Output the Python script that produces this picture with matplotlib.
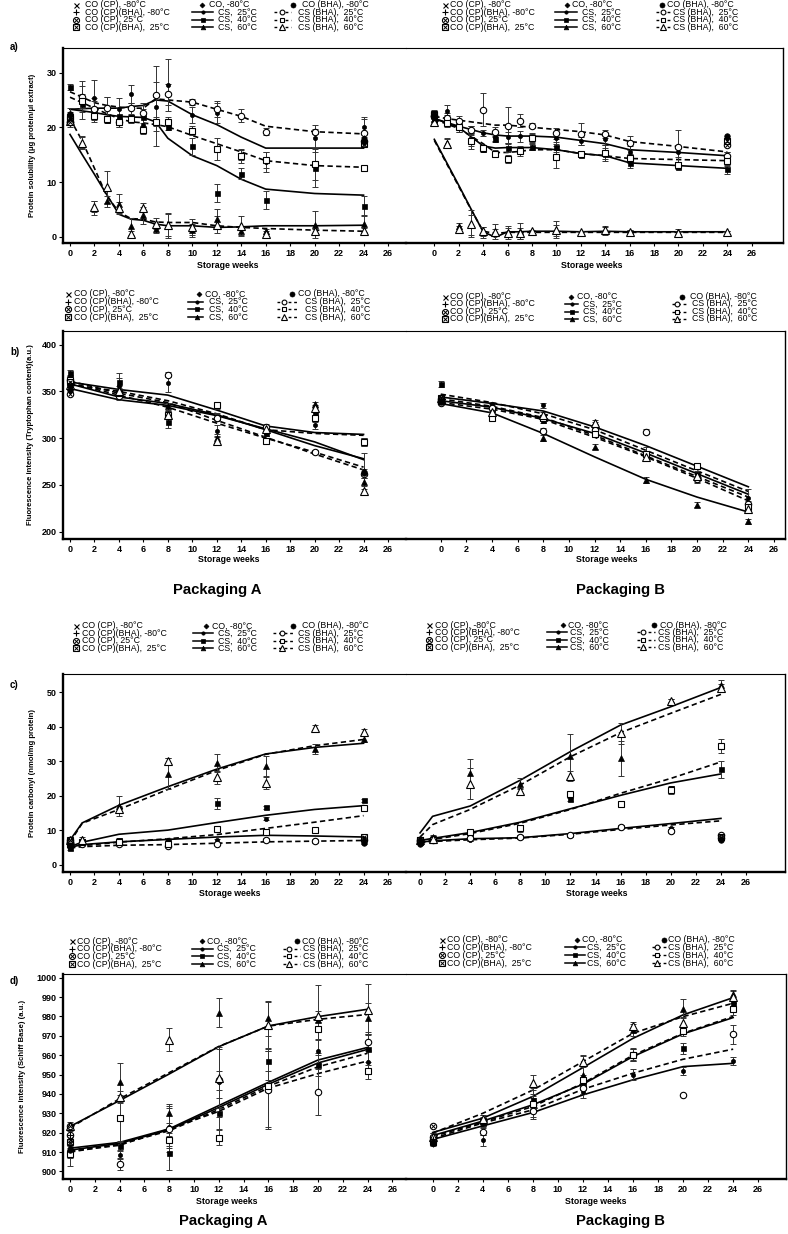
import numpy as np
import matplotlib
matplotlib.use('Agg')
import matplotlib.pyplot as plt
from matplotlib.lines import Line2D

plt.rcParams['font.family'] = ['Liberation Sans', 'DejaVu Sans']
nan = np.nan

# ------------------------------------------------------------------ data
WK_A = [0, 1, 2, 3, 4, 5, 6, 7, 8, 10, 12, 14, 16, 20, 24]
WK_B = [0, 4, 8, 12, 16, 20, 24]
WK_C = [0, 1, 4, 8, 12, 16, 20, 24]
WK_D = [0, 4, 8, 12, 16, 20, 24]
CTRL_WK = [0, 24]
XTICKS = list(range(0, 27, 2))

# a) Protein solubility - Packaging A
aL_cs25 = [22.3, 25.0, 25.3, 23.8, 23.3, 26.1, 20.5, 23.8, 27.7, 22.3, 22.6, 15.0, 13.7, 18.0, 20.0]
aL_cs25_err = [1.3, 3.5, 3.3, 1.8, 2.0, 1.6, 1.5, 4.5, 4.8, 1.5, 1.8, 1.0, 1.8, 2.5, 1.8]
aL_cs40 = [27.4, 24.3, 23.3, 21.3, 22.0, 21.8, 21.8, 21.0, 20.0, 16.5, 8.0, 11.5, 6.7, 12.5, 5.7]
aL_cs40_err = [0.5, 1.5, 2.0, 0.5, 1.5, 0.5, 1.5, 4.5, 0.5, 1.5, 1.6, 1.0, 1.6, 3.5, 1.8]
aL_cs60 = [21.8, 17.2, 5.2, 6.5, 6.0, 1.9, 3.9, 1.5, 2.0, 1.2, 3.2, 1.0, 1.0, 2.2, 2.3]
aL_cs60_err = [1.0, 1.0, 1.3, 1.0, 1.8, 1.6, 1.5, 0.8, 2.3, 1.2, 1.8, 0.8, 0.5, 2.5, 1.5]
aL_bha25 = [21.0, 25.5, 23.3, 23.5, 21.0, 23.5, 22.6, 25.9, 26.0, 24.6, 23.3, 22.1, 19.2, 19.2, 19.0]
aL_bha25_err = [1.0, 2.0, 1.5, 2.0, 1.0, 1.0, 1.8, 5.4, 2.0, 0.5, 1.5, 1.2, 0.6, 0.5, 2.5]
aL_bha40 = [21.5, 24.8, 22.0, 21.5, 21.0, 21.5, 19.5, 21.0, 21.0, 19.4, 16.0, 14.7, 14.0, 13.3, 12.5]
aL_bha40_err = [0.8, 1.2, 1.0, 0.5, 1.0, 0.8, 0.8, 0.8, 0.8, 0.8, 2.0, 1.2, 1.5, 3.0, 0.5]
aL_bha60 = [21.2, 17.2, 5.5, 9.1, 5.3, 0.5, 5.3, 2.4, 2.2, 1.8, 2.2, 2.0, 0.5, 1.0, 1.1]
aL_bha60_err = [0.8, 1.2, 1.0, 3.0, 1.0, 0.6, 0.8, 1.0, 2.0, 1.5, 1.5, 1.7, 0.5, 0.5, 0.5]
aL_cs25_fit = [23.3, 23.4, 23.5, 23.5, 23.5, 23.8, 24.0, 25.0, 24.8, 22.3, 20.5, 18.2, 16.2, 16.2, 16.2]
aL_cs40_fit = [23.3, 23.0, 22.7, 22.3, 22.0, 21.9, 21.8, 21.0, 18.0, 14.8, 13.0, 10.5, 8.7, 7.9, 7.6]
aL_cs60_fit = [18.7, 15.0, 11.4, 7.7, 4.1, 3.2, 3.0, 2.3, 2.0, 2.0, 1.7, 1.8, 2.0, 2.0, 2.1]
aL_bha25_fit = [26.5, 25.5, 24.5, 24.0, 23.7, 23.5, 23.5, 25.2, 25.0, 24.6, 23.3, 22.0, 20.2, 19.2, 18.8]
aL_bha40_fit = [25.5, 24.5, 23.5, 22.5, 21.6, 21.0, 20.8, 20.5, 20.1, 18.5, 17.0, 15.5, 13.9, 13.0, 12.7]
aL_bha60_fit = [21.6, 17.5, 12.5, 7.5, 4.5, 3.3, 3.2, 2.7, 2.6, 2.6, 2.0, 1.7, 1.5, 1.2, 1.0]
aL_cp80 = [21.5, nan]
aL_cpbha80 = [22.0, nan]
aL_cp25 = [20.9, 17.5]
aL_cpbha25 = [21.8, 17.0]
aL_co80 = [22.0, 18.0]
aL_cobha80 = [22.5, 17.5]

# a) Protein solubility - Packaging B
aR_cs25 = [21.5, 22.9, 20.3, 19.4, 19.0, 18.3, 18.2, 18.4, 18.2, 18.0, 17.5, 17.8, 15.5, 15.5, 14.6]
aR_cs25_err = [0.8, 1.2, 0.8, 0.8, 0.5, 0.8, 1.0, 1.0, 0.8, 1.0, 0.8, 1.0, 1.0, 1.0, 0.8]
aR_cs40 = [21.3, 21.4, 20.0, 17.8, 16.0, 17.8, 16.3, 16.0, 16.4, 16.4, 15.0, 15.2, 13.5, 12.8, 12.3]
aR_cs40_err = [0.8, 0.8, 0.8, 1.2, 0.5, 0.5, 0.8, 0.5, 0.5, 1.0, 0.5, 1.0, 1.0, 0.5, 0.8]
aR_cs60 = [21.5, 17.2, 2.0, 2.2, 0.8, 0.9, 0.9, 1.0, 1.0, 1.2, 0.6, 1.1, 0.9, 0.8, 0.8]
aR_cs60_err = [0.5, 0.8, 0.5, 1.8, 1.0, 1.4, 1.0, 1.5, 0.3, 1.0, 0.3, 0.8, 0.3, 0.6, 0.3]
aR_bha25 = [22.0, 21.7, 21.2, 19.5, 23.2, 19.2, 20.3, 21.2, 20.3, 18.9, 18.8, 18.8, 17.2, 16.4, 14.7]
aR_bha25_err = [0.8, 1.0, 0.8, 0.8, 3.0, 0.8, 3.4, 1.2, 0.5, 1.0, 2.0, 0.8, 1.3, 3.2, 0.8]
aR_bha40 = [22.3, 20.8, 20.0, 17.5, 16.3, 15.2, 14.2, 15.6, 18.0, 14.5, 15.1, 15.3, 14.3, 13.2, 13.8]
aR_bha40_err = [0.8, 0.8, 0.8, 1.5, 0.5, 0.6, 0.8, 0.8, 0.8, 2.0, 0.5, 1.5, 0.8, 0.5, 0.8]
aR_bha60 = [21.0, 17.0, 1.4, 2.4, 1.0, 0.8, 0.6, 0.6, 1.0, 1.3, 0.8, 1.2, 0.9, 0.7, 0.8]
aR_bha60_err = [0.5, 0.8, 0.5, 2.4, 0.8, 0.6, 1.0, 1.0, 0.3, 1.5, 0.3, 0.6, 0.3, 0.3, 0.3]
aR_cs25_fit = [21.6, 20.9, 20.2, 19.6, 19.0, 18.6, 18.4, 18.4, 18.4, 18.2, 17.6, 17.0, 15.9, 15.4, 14.8]
aR_cs40_fit = [21.6, 20.8, 20.0, 18.3, 16.6, 16.2, 16.3, 16.3, 16.3, 15.9, 15.2, 14.8, 13.5, 13.0, 12.5]
aR_cs60_fit = [17.8, 13.6, 9.4, 5.1, 0.9, -0.1, 0.9, 0.9, 1.0, 1.0, 0.9, 1.0, 0.9, 0.9, 0.9]
aR_bha25_fit = [22.0, 21.6, 21.3, 21.0, 20.7, 20.4, 20.4, 20.2, 20.0, 19.6, 19.2, 18.6, 17.4, 16.5, 15.5]
aR_bha40_fit = [21.5, 20.6, 19.8, 18.4, 17.0, 15.4, 15.4, 15.6, 15.9, 15.9, 15.2, 14.8, 14.3, 14.1, 13.9]
aR_bha60_fit = [17.6, 13.4, 9.2, 5.0, 1.0, 0.6, 0.8, 0.8, 0.8, 0.8, 0.8, 0.8, 0.8, 0.8, 0.8]
aR_cp80 = [21.5, nan]
aR_cpbha80 = [21.8, nan]
aR_cp25 = [22.0, 16.8]
aR_cpbha25 = [22.5, 17.5]
aR_co80 = [21.8, 18.0]
aR_cobha80 = [22.2, 18.4]

# b) Tryptophan fluorescence - Packaging A
bL_cs25 = [358, 356, 359, 308, 306, 314, 262]
bL_cs25_err = [6, 8, 10, 6, 4, 4, 5]
bL_cs40 = [370, 360, 317, 323, 305, 328, 296]
bL_cs40_err = [3, 10, 6, 4, 3, 4, 4]
bL_cs60 = [355, 352, 334, 300, 310, 336, 253]
bL_cs60_err = [4, 4, 4, 4, 3, 3, 4]
bL_bha25 = [362, 345, 368, 322, 312, 285, 262]
bL_bha25_err = [4, 4, 3, 4, 3, 2, 22]
bL_bha40 = [362, 348, 325, 335, 297, 321, 296]
bL_bha40_err = [4, 4, 4, 4, 3, 4, 4]
bL_bha60 = [357, 350, 325, 297, 310, 332, 243]
bL_bha60_err = [4, 4, 4, 4, 3, 3, 3]
bL_cs25_fit = [360, 352, 346, 330, 313, 306, 304]
bL_cs40_fit = [358, 344, 337, 325, 309, 292, 278]
bL_cs60_fit = [353, 341, 335, 324, 310, 296, 277]
bL_bha25_fit = [359, 346, 333, 316, 300, 285, 269]
bL_bha40_fit = [361, 348, 338, 319, 301, 283, 266]
bL_bha60_fit = [357, 350, 340, 326, 309, 305, 303]
bL_cp80 = [352, nan]
bL_cpbha80 = [355, nan]
bL_cp25 = [347, nan]
bL_cpbha25 = [360, nan]
bL_co80 = [350, 265]
bL_cobha80 = [356, 263]

# b) Tryptophan fluorescence - Packaging B
bR_cs25 = [341, 336, 335, 314, 284, 255, 236]
bR_cs25_err = [3, 3, 3, 3, 6, 3, 10]
bR_cs40 = [358, 331, 319, 312, 281, 262, 228]
bR_cs40_err = [3, 3, 3, 3, 3, 3, 3]
bR_cs60 = [340, 334, 300, 291, 255, 229, 211]
bR_cs60_err = [3, 3, 3, 3, 3, 3, 3]
bR_bha25 = [342, 332, 308, 309, 307, 256, 230]
bR_bha25_err = [3, 3, 3, 3, 3, 3, 3]
bR_bha40 = [340, 321, 321, 304, 283, 270, 226]
bR_bha40_err = [3, 3, 3, 3, 3, 3, 3]
bR_bha60 = [343, 328, 325, 316, 280, 259, 224]
bR_bha60_err = [3, 3, 3, 3, 3, 3, 3]
bR_cs25_fit = [344, 337, 329, 312, 292, 270, 248]
bR_cs40_fit = [340, 333, 321, 305, 284, 262, 240]
bR_cs60_fit = [337, 327, 305, 280, 256, 237, 221]
bR_bha25_fit = [347, 338, 326, 309, 287, 265, 243]
bR_bha40_fit = [342, 334, 322, 303, 281, 259, 237]
bR_bha60_fit = [338, 331, 320, 301, 280, 257, 233]
bR_cp80 = [340, nan]
bR_cpbha80 = [342, nan]
bR_cp25 = [338, nan]
bR_cpbha25 = [343, nan]
bR_co80 = [341, nan]
bR_cobha80 = [339, nan]

# c) Protein carbonyl - Packaging A
cL_cs25 = [5.5, 6.5, 6.8, 7.2, 7.0, 13.3, 7.0, 6.5]
cL_cs25_err = [0.5, 0.5, 0.5, 0.5, 0.5, 0.5, 0.5, 0.5]
cL_cs40 = [4.8, 6.8, 7.2, 6.5, 17.8, 16.6, 10.0, 18.6]
cL_cs40_err = [0.5, 0.5, 0.5, 0.5, 1.6, 0.5, 0.5, 0.5]
cL_cs60 = [6.0, 7.5, 17.0, 26.3, 29.5, 28.5, 33.5, 36.5]
cL_cs60_err = [0.5, 0.5, 3.0, 4.5, 2.5, 3.0, 1.5, 0.8]
cL_bha25 = [6.5, 6.0, 6.0, 5.5, 6.0, 7.2, 6.7, 7.2]
cL_bha25_err = [0.4, 0.4, 0.4, 0.4, 0.4, 0.4, 0.4, 0.4]
cL_bha40 = [6.0, 6.5, 6.5, 6.0, 10.3, 9.5, 10.0, 16.3]
cL_bha40_err = [0.5, 0.5, 0.5, 0.5, 0.5, 0.5, 0.5, 0.5]
cL_bha60 = [7.0, 7.0, 16.0, 30.0, 25.3, 23.8, 39.5, 38.6]
cL_bha60_err = [0.5, 0.5, 1.0, 1.0, 2.0, 2.0, 1.0, 0.6]
cL_cs25_fit = [5.0, 5.8, 6.6, 7.3, 8.0, 8.5, 8.3, 8.0]
cL_cs40_fit = [5.2, 6.5, 8.8, 10.0, 12.2, 14.3, 16.0, 17.1]
cL_cs60_fit = [7.1, 12.1, 17.2, 22.6, 27.7, 32.1, 34.0, 35.2]
cL_bha25_fit = [4.8, 5.2, 5.6, 5.8, 6.2, 6.6, 6.8, 7.0]
cL_bha40_fit = [5.0, 5.5, 6.5, 7.5, 8.7, 10.5, 12.3, 14.2]
cL_bha60_fit = [6.5, 12.0, 16.0, 21.8, 27.3, 32.0, 34.5, 36.3]
cL_cp80 = [6.0, nan]
cL_cpbha80 = [5.5, nan]
cL_cp25 = [7.0, nan]
cL_cpbha25 = [7.2, 8.0]
cL_co80 = [5.8, 7.0]
cL_cobha80 = [5.0, 6.3]

# c) Protein carbonyl - Packaging B
cR_cs25 = [6.8, 7.0, 7.2, 8.0, 8.4, 11.0, 10.5, 7.5]
cR_cs25_err = [0.5, 0.5, 0.5, 0.5, 0.5, 0.5, 0.5, 0.5]
cR_cs40 = [6.5, 7.8, 8.5, 11.0, 18.9, 17.8, 22.3, 27.7]
cR_cs40_err = [0.5, 0.5, 0.5, 0.5, 0.5, 0.5, 0.5, 2.5]
cR_cs60 = [7.5, 8.0, 26.5, 23.5, 31.5, 30.8, 47.5, 52.0]
cR_cs60_err = [0.5, 0.5, 4.0, 1.5, 6.5, 5.0, 0.5, 1.5]
cR_bha25 = [7.0, 7.2, 7.8, 8.0, 8.5, 11.0, 9.8, 8.5]
cR_bha25_err = [0.5, 0.5, 1.0, 0.5, 0.5, 0.5, 0.5, 0.5]
cR_bha40 = [7.0, 7.0, 9.5, 10.5, 20.5, 17.5, 21.5, 34.5]
cR_bha40_err = [0.5, 0.5, 0.5, 1.0, 0.5, 0.5, 1.0, 2.0]
cR_bha60 = [7.0, 7.5, 23.5, 21.3, 25.7, 38.1, 47.6, 51.3]
cR_bha60_err = [0.5, 0.5, 4.5, 1.0, 1.5, 3.0, 0.5, 1.0]
cR_cs25_fit = [6.5, 6.9, 7.5, 7.8, 9.0, 10.5, 11.9, 13.4]
cR_cs40_fit = [7.0, 7.6, 9.3, 12.3, 16.2, 20.1, 23.7, 26.3]
cR_cs60_fit = [9.2, 14.0, 17.0, 24.5, 32.8, 40.5, 45.8, 51.4]
cR_bha25_fit = [6.3, 6.7, 7.2, 7.7, 8.8, 10.2, 11.5, 12.7]
cR_bha40_fit = [6.5, 7.3, 9.0, 12.0, 16.0, 20.7, 25.0, 29.8]
cR_bha60_fit = [8.0, 11.6, 16.0, 23.1, 31.3, 38.3, 43.9, 49.4]
cR_cp80 = [6.5, nan]
cR_cpbha80 = [7.0, nan]
cR_cp25 = [6.8, 7.6]
cR_cpbha25 = [7.2, 8.0]
cR_co80 = [6.5, 7.5]
cR_cobha80 = [6.0, 7.0]

# d) Schiff base fluorescence - Packaging A
dL_cs25 = [911, 908.5, 923, 946, 943, 962, 956.5]
dL_cs25_err = [3, 2, 10, 18, 20, 6, 6]
dL_cs40 = [910, 913, 909.5, 930, 957, 955, 963]
dL_cs40_err = [3, 2, 9, 8, 5, 6, 8]
dL_cs60 = [912, 946, 930, 982, 979, 978, 979]
dL_cs60_err = [3, 10, 5, 7.5, 9, 18, 8]
dL_bha25 = [919, 904, 922, 947, 942, 941, 967]
dL_bha25_err = [2, 3, 12, 5, 20, 12, 5]
dL_bha40 = [909, 927.5, 916, 917.5, 944, 973.5, 952]
dL_bha40_err = [6, 12, 4, 4, 3, 5, 4.5]
dL_bha60 = [923.5, 938.5, 968, 948, 975.5, 980, 983.5]
dL_bha60_err = [2, 3, 6, 15, 12, 3, 13]
dL_cs25_fit = [912, 915, 922, 934, 946, 957.5, 964]
dL_cs40_fit = [911, 914.5, 921.5, 933, 945, 956, 963]
dL_cs60_fit = [923.2, 936.6, 950.3, 964.4, 975.1, 979.9, 983.7]
dL_bha25_fit = [910.5, 913.5, 922, 931, 943, 950.5, 957]
dL_bha40_fit = [910, 914, 921, 932, 944, 954, 961]
dL_bha60_fit = [922.5, 937.5, 951, 964.5, 975, 978.5, 981]
dL_cp80 = [917, nan]
dL_cpbha80 = [919, nan]
dL_cp25 = [923.5, nan]
dL_cpbha25 = [915, nan]
dL_co80 = [912, nan]
dL_cobha80 = [911, nan]

# d) Schiff base fluorescence - Packaging B
dR_cs25 = [916, 916, 935, 941, 950, 952, 957]
dR_cs25_err = [2, 3, 8, 3, 3, 2, 2]
dR_cs40 = [915, 925, 937, 945, 960.5, 963.5, 987]
dR_cs40_err = [2, 2, 3, 3, 3, 3, 2]
dR_cs60 = [917, 927, 936, 950, 973, 984, 991.5]
dR_cs60_err = [2, 2, 3, 10, 3, 5, 2]
dR_bha25 = [918, 920.6, 931, 943, 960, 939.2, 970.8]
dR_bha25_err = [2, 2, 3, 3, 3, 0, 5]
dR_bha40 = [916, 926, 935, 947, 960, 972.7, 983.8]
dR_bha40_err = [2, 2, 3, 3, 3, 3, 3]
dR_bha60 = [918, 927, 945.9, 956.7, 975.1, 976.5, 990]
dR_bha60_err = [2, 2, 4, 3, 2, 3, 3]
dR_cs25_fit = [916.5, 923.5, 930.4, 939.5, 947.3, 954.1, 955.8]
dR_cs40_fit = [918.5, 926, 934.4, 945, 959.3, 971, 979.4]
dR_cs60_fit = [920.1, 927.5, 938.7, 953.6, 968.7, 980.8, 989.7]
dR_bha25_fit = [917, 925, 931.8, 942.4, 950.7, 957.9, 963.1]
dR_bha40_fit = [918, 925.5, 933.5, 945.5, 960, 971.3, 980]
dR_bha60_fit = [919.8, 930, 942, 956.7, 971.3, 979.9, 986.8]
dR_cp80 = [916, nan]
dR_cpbha80 = [917, nan]
dR_cp25 = [923.5, nan]
dR_cpbha25 = [915, nan]
dR_co80 = [914, nan]
dR_cobha80 = [915, nan]

YT_A = [0, 10, 20, 30]
YT_B = [200, 250, 300, 350, 400]
YT_C = [0, 10, 20, 30, 40, 50]
YT_D = list(range(900, 1001, 10))
YLABELS = ['Protein solubility (\u03bcg protein/\u03bcl extract)',
           'Fluorescence intensity (Tryptophan content)(a.u.)',
           'Protein carbonyl (nmol/mg protein)',
           'Fluorescence intensity (Schiff Base) (a.u.)']
LEG_C1 = ['CO (CP), -80\u00b0C', 'CO (CP)(BHA), -80\u00b0C', 'CO (CP), 25\u00b0C', 'CO (CP)(BHA),  25\u00b0C']
LEG_C2 = ['CO, -80\u00b0C', 'CS,  25\u00b0C', 'CS,  40\u00b0C', 'CS,  60\u00b0C']
LEG_C3 = ['CO (BHA), -80\u00b0C', 'CS (BHA),  25\u00b0C', 'CS (BHA),  40\u00b0C', 'CS (BHA),  60\u00b0C']

# ------------------------------------------------------------------ styles
W, H = 788, 1234
fig = plt.figure(figsize=(W / 100, H / 100), dpi=100)

MK = {
    'cp80': [dict(marker='x', ms=3.6, mec='k', mew=0.8)],
    'cpbha80': [dict(marker='+', ms=4.6, mec='k', mew=0.8)],
    'cp25': [dict(marker='o', ms=4.6, mfc='none', mec='k', mew=0.8),
             dict(marker='x', ms=2.6, mec='k', mew=0.7)],
    'cpbha25': [dict(marker='s', ms=4.4, mfc='none', mec='k', mew=0.8),
                dict(marker='x', ms=2.8, mec='k', mew=0.7)],
    'co80': [dict(marker='D', ms=2.8, mfc='k', mec='k', mew=0.5)],
    'cobha80': [dict(marker='o', ms=4.0, mfc='k', mec='k', mew=0.5)],
    'cs25': [dict(marker='o', ms=3.0, mfc='k', mec='k', mew=0.5)],
    'cs40': [dict(marker='s', ms=3.6, mfc='k', mec='k', mew=0.5)],
    'cs60': [dict(marker='^', ms=4.2, mfc='k', mec='k', mew=0.5)],
    'bha25': [dict(marker='o', ms=4.6, mfc='white', mec='k', mew=0.8)],
    'bha40': [dict(marker='s', ms=4.6, mfc='white', mec='k', mew=0.8)],
    'bha60': [dict(marker='^', ms=5.2, mfc='white', mec='k', mew=0.8)],
}
SOLID = dict(color='k', lw=1.2, ls='-')
DASH = dict(color='k', lw=1.2, ls=(0, (3.2, 2.0)))
LEG_SOLID = dict(color='k', lw=1.1, ls='-')
LEG_DASH = dict(color='k', lw=1.0, ls=(0, (2.0, 2.0)))
LEG_MS = {'cp80': 1.0, 'cpbha80': 1.0, 'cp25': 0.95, 'cpbha25': 0.95, 'co80': 0.9, 'cobha80': 0.9,
          'cs25': 0.8, 'cs40': 0.8, 'cs60': 0.8, 'bha25': 0.75, 'bha40': 0.75, 'bha60': 0.75}

def fx(x):
    return x / W

def fy(y):
    return 1 - y / H

def fig_mark(x, y, key):
    for kw in MK[key]:
        kw2 = dict(kw)
        kw2['ms'] = kw['ms'] * LEG_MS[key]
        fig.add_artist(Line2D([fx(x)], [fy(y)], transform=fig.transFigure, ls='none', **kw2))

def fig_line(x0, x1, y, style):
    fig.add_artist(Line2D([fx(x0), fx(x1)], [fy(y), fy(y)], transform=fig.transFigure, **style))

def fig_text(x, y, s, **kw):
    fig.text(fx(x), fy(y), s, **kw)

def draw_series(ax, weeks, vals, err, fit, key, style):
    ax.plot(weeks, fit, zorder=2, **style)
    ax.errorbar(weeks, vals, yerr=err, fmt='none', ecolor='#333333', elinewidth=0.7,
                capsize=2.0, capthick=0.7, zorder=3)
    for kw in MK[key]:
        ax.plot(weeks, vals, ls='none', zorder=4, **kw)

def draw_ctrl(ax, vals, key):
    for kw in MK[key]:
        ax.plot(CTRL_WK, vals, ls='none', zorder=4, **kw)

def draw_panel(ax, weeks, p):
    g = globals()
    for key, st in [('cs25', SOLID), ('cs40', SOLID), ('cs60', SOLID),
                    ('bha25', DASH), ('bha40', DASH), ('bha60', DASH)]:
        draw_series(ax, weeks, g[p + '_' + key], g[p + '_' + key + '_err'],
                    g[p + '_' + key + '_fit'], key, st)
    for key in ['cp80', 'cpbha80', 'cp25', 'cpbha25', 'co80', 'cobha80']:
        draw_ctrl(ax, g[p + '_' + key], key)

def legend_block(L):
    for i in range(4):
        y = L['y0'] + i * L['dy']
        fig_mark(L['c1m'], y, ['cp80', 'cpbha80', 'cp25', 'cpbha25'][i])
        fig_text(L['c1t'], y, LEG_C1[i], fontsize=6.3, va='center', ha='left')
        if i == 0:
            fig_mark(L['c2d'], y, 'co80')
            fig_text(L['c2tc'], y, LEG_C2[0], fontsize=6.3, va='center', ha='left')
            fig_mark(L['c3f'], y, 'cobha80')
            fig_text(L['c3tc'], y, LEG_C3[0], fontsize=6.3, va='center', ha='left')
        else:
            fig_line(L['c2l'][0], L['c2l'][1], y, LEG_SOLID)
            fig_mark(L['c2m'], y, ['cs25', 'cs40', 'cs60'][i - 1])
            fig_text(L['c2t'], y, LEG_C2[i], fontsize=6.3, va='center', ha='left')
            fig_line(L['c3l'][0], L['c3l'][1], y, LEG_DASH)
            fig_mark(L['c3m'], y, ['bha25', 'bha40', 'bha60'][i - 1])
            fig_text(L['c3t'], y, LEG_C3[i], fontsize=6.3, va='center', ha='left')

LEGENDS = [
    dict(y0=4.5, dy=7.6, c1m=76, c1t=85, c2d=202, c2tc=209, c2l=(192, 213), c2m=203, c2t=218,
         c3f=293, c3tc=302, c3l=(274, 291), c3m=282, c3t=298),
    dict(y0=4.5, dy=7.6, c1m=445, c1t=450, c2d=567, c2tc=572, c2l=(555, 577), c2m=566, c2t=582,
         c3f=662, c3tc=667, c3l=(656, 670), c3m=663, c3t=673),
    dict(y0=294, dy=7.7, c1m=68, c1t=74, c2d=199, c2tc=205, c2l=(188, 203), c2m=197, c2t=209,
         c3f=292, c3tc=298, c3l=(277, 298), c3m=284, c3t=305),
    dict(y0=296.5, dy=7.5, c1m=445, c1t=450, c2d=571, c2tc=577, c2l=(565, 578), c2m=572, c2t=583,
         c3f=682, c3tc=690, c3l=(672, 688), c3m=677, c3t=692),
    dict(y0=626, dy=7.45, c1m=76, c1t=82, c2d=206, c2tc=212, c2l=(193, 213), c2m=203, c2t=218,
         c3f=293, c3tc=302, c3l=(273, 293), c3m=282, c3t=298),
    dict(y0=625, dy=7.45, c1m=429, c1t=435, c2d=563, c2tc=568, c2l=(547, 567), c2m=558, c2t=570,
         c3f=654, c3tc=660, c3l=(637, 655), c3m=643, c3t=658),
    dict(y0=941, dy=7.7, c1m=72, c1t=77, c2d=202, c2tc=207, c2l=(192, 213), c2m=202, c2t=217,
         c3f=297, c3tc=302, c3l=(283, 300), c3m=289, c3t=303),
    dict(y0=939.5, dy=7.9, c1m=442, c1t=447, c2d=577, c2tc=582, c2l=(565, 585), c2m=575, c2t=587,
         c3f=664, c3tc=668, c3l=(652, 667), c3m=657, c3t=668),
]

ROWS = [
    dict(p='a', wk=WK_A, top=48, bot=243, ylim=(-1.15, 34.5), yt=YT_A, lx=(-0.572, 27.47),
         rx=(-2.32, 28.56), R=783, lab_y=47, ylab_x=33, xl_y=265, xl=(228, 592)),
    dict(p='b', wk=WK_B, top=331, bot=539, ylim=(192.2, 414.5), yt=YT_B, lx=(-0.572, 27.47),
         rx=(-2.71, 26.86), R=785, lab_y=352, ylab_x=31, xl_y=560, xl=(229, 607)),
    dict(p='c', wk=WK_C, top=674, bot=872, ylim=(-2.15, 55.3), yt=YT_C, lx=(-0.572, 27.47),
         rx=(-1.12, 29.11), R=785, lab_y=685, ylab_x=33, xl_y=893, xl=(230, 597)),
    dict(p='d', wk=WK_D, top=974, bot=1179, ylim=(896.1, 1001.9), yt=YT_D, lx=(-0.565, 27.1),
         rx=(-2.13, 28.22), R=786, lab_y=981, ylab_x=23, xl_y=1202, xl=(227, 596)),
]
LX0, SPLIT = 63, 406

for ri, r in enumerate(ROWS):
    h = r['bot'] - r['top']
    axL = fig.add_axes([fx(LX0), fy(r['bot']), (SPLIT - LX0) / W, h / H])
    axR = fig.add_axes([fx(SPLIT), fy(r['bot']), (r['R'] - SPLIT) / W, h / H])
    for ax, side, xl in [(axL, 'L', r['lx']), (axR, 'R', r['rx'])]:
        draw_panel(ax, r['wk'], r['p'] + side)
        ax.set_xlim(*xl)
        ax.set_ylim(*r['ylim'])
        ax.set_xticks(XTICKS)
        ax.set_xticklabels([str(t) for t in XTICKS], fontsize=6.5, fontweight='bold')
        ax.tick_params(axis='x', length=2, width=0.8, pad=2)
        ax.spines['top'].set_linewidth(0.8)
        ax.spines['bottom'].set_linewidth(1.7)
        ax.set_facecolor('none')
    axL.spines['right'].set_visible(False)
    axL.spines['left'].set_linewidth(1.7)
    axL.set_yticks(r['yt'])
    axL.set_yticklabels([str(t) for t in r['yt']], fontsize=6.5, fontweight='bold')
    axL.tick_params(axis='y', length=3, width=0.8, pad=1.5)
    axR.spines['left'].set_visible(False)
    axR.spines['right'].set_linewidth(1.0)
    axR.set_yticks([])
    # texts
    fig_text(10, r['lab_y'], r['p'] + ')', fontsize=7, fontweight='bold', va='center', ha='left')
    fig_text(r['ylab_x'], (r['top'] + r['bot']) / 2, YLABELS[ri], fontsize=5.5,
             fontweight='bold', rotation=90, va='center', ha='center')
    fig_text(r['xl'][0], r['xl_y'], 'Storage weeks', fontsize=6.3, fontweight='bold',
             va='center', ha='center')
    fig_text(r['xl'][1], r['xl_y'], 'Storage weeks', fontsize=6.3, fontweight='bold',
             va='center', ha='center')

for L in LEGENDS:
    legend_block(L)

for yy in (590, 1221):
    fig_text(217 if yy == 590 else 223, yy, 'Packaging A', fontsize=10.7, fontweight='bold',
             va='center', ha='center')
    fig_text(620, yy, 'Packaging B', fontsize=10.7, fontweight='bold', va='center', ha='center')

fig.savefig('out.png', dpi=100)
